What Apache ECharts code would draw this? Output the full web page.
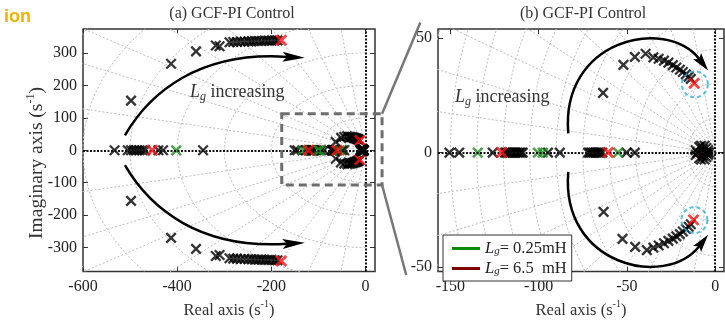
<!DOCTYPE html>
<html><head><meta charset="utf-8">
<script src="https://cdn.jsdelivr.net/npm/echarts@6/dist/echarts.min.js"></script>
<style>html,body{margin:0;padding:0;background:#fff}#c{width:725px;height:324px}</style>
</head><body><div id="c"></div>
<script>
const FONT = '"Liberation Serif","DejaVu Serif",serif';

// ---- data: poles (real part, imaginary part) in s^-1 ----
const realBlack = [-533,-505,-498,-492,-486,-480,-474,-468,-440,-430,-345,-150.5,-145,-126,-119,-118,-117,-116,-115,-114,-113,-112,-111,-110,-109,-94.7,-88,-72,-71,-70,-69,-68,-67,-66,-65,-64,-50.2,-45.5];
const realGreen = [-402,-134.5,-100.4,-97.6,-55];
const realRed = [-453,-121,-60.6];
const upperBlack = [[-498,153],[-413,267],[-360,305],[-318,323],[-310,321],[-289,333],[-281,334],[-273,334],[-265,335],[-257,335],[-249,336],[-242,336],[-235,337],[-228,337],[-221,337],[-214,338],[-207,338],[-200,338],[-193,339],[-187,339],
  [-63.5,26.1],[-52,38.3],[-45.5,41.8],[-39.4,43.2],[-35,41.6],[-32,41],[-29,40.2],[-26.5,39.3],[-24,38.2],[-22,37.2],[-20,36.2],[-18.3,35.2],[-16.6,34.2],[-15,33.2],[-13.8,32.2]];
const lowerBlack = [[-498,-156],[-413,-270],[-360,-304],[-318,-326],[-310,-323],[-289,-333],[-281,-334],[-273,-334],[-265,-335],[-257,-335],[-249,-336],[-242,-336],[-235,-337],[-228,-337],[-221,-337],[-214,-338],[-207,-338],[-200,-338],[-193,-339],[-187,-339],
  [-63.2,-25.9],[-52.5,-37.7],[-45.3,-41.2],[-38.7,-42.6],[-35,-41.5],[-32,-40.6],[-29,-39.6],[-26.5,-38.6],[-24,-37.6],[-22,-36.6],[-20,-35.6],[-18.3,-34.5],[-16.6,-33.4],[-15,-32.4],[-13.8,-31.3]];
const complexRed = [[-179,339],[-11.9,30.3],[-179,-341],[-12.3,-29.4]];
const originBlack = [[-11,1],[-11,-1],[-10,0],[-9,2.5],[-9,-2.5],[-8,3],[-8,-3],[-7,1.5],[-7,-1.5],[-6,3],[-6,-3],[-5,0],[-5,2],[-5,-2],[-4,1],[-4,-1],[-3.5,0]];
const originRed = [[-7.5,0]];
const highlight = [[-11.5,29.8],[-11.8,-29.5]];

// ---- axes / grid lines ----
const xTicksA = [-600,-400,-200,0];
const yTicksA = [-300,-200,-100,0,100,200,300];
const xTicksB = [-150,-100,-50,0];
const yTicksB = [-50,0,50];
const dampAnglesA = [12,24,32,42,52,62,72,82];
const dampAnglesB = [6.5,13,20,27,35,44,54,65,77];
const wnA = [100,200,300,400,500,600,700,800];
const wnB = [15,30,45,60,75,90,105,120,135,150,165];

const XS = 'path://M0,0L10,10M10,0L0,10';
const real = xs => xs.map(x => [x, 0]);
const blackAll = real(realBlack).concat(upperBlack, lowerBlack);
const greenAll = real(realGreen);
const redAll = real(realRed).concat(complexRed, originRed);

function scat(data, gi, color, size, bw, z) {
  return {type:'scatter', xAxisIndex:gi, yAxisIndex:gi, data, symbol:XS, symbolSize:size,
    itemStyle:{color:'rgba(0,0,0,0)', borderColor:color, borderWidth:bw}, z, silent:true, clip:true};
}
function gridLine(data, gi) {
  return {type:'line', xAxisIndex:gi, yAxisIndex:gi, data, symbol:'none', showSymbol:false, clip:true, silent:true, z:1,
    lineStyle:{color:'#bdbdbd', width:1, type:[2,2]}};
}
function sgrid(gi, angles, radii, R) {
  const out = [];
  angles.forEach(a => {
    const t = a*Math.PI/180;
    out.push(gridLine([[0,0],[-R*Math.cos(t), R*Math.sin(t)]], gi));
    out.push(gridLine([[0,0],[-R*Math.cos(t), -R*Math.sin(t)]], gi));
  });
  radii.forEach(r => {
    const d = [];
    for (let a=90; a<=270; a+=2) { const t=a*Math.PI/180; d.push([r*Math.cos(t), r*Math.sin(t)]); }
    out.push(gridLine(d, gi));
  });
  return out;
}
const tickStyle = {inside:true, length:5, lineStyle:{color:'#333', width:1}};
const labStyle = {fontFamily:FONT, fontSize:16, color:'#222'};
const nameRich = {n:{fontFamily:FONT, fontSize:16.5, color:'#333'}, s:{fontFamily:FONT, fontSize:10, color:'#333', verticalAlign:'top', lineHeight:22}};

function xAx(gi, min, max, ticks, top) {
  return {type:'value', gridIndex:gi, min, max, position: top?'top':'bottom',
    axisLine:{show:false, onZero:false}, splitLine:{show:false},
    axisTick:Object.assign({customValues:ticks}, tickStyle),
    axisLabel:top?{show:false}:Object.assign({customValues:ticks, margin:7, formatter:v=>String(v)}, labStyle),
    name: top?'':'{n|Real axis (s}{s|-1}{n|)}', nameLocation:'middle', nameGap:27, nameTextStyle:{rich:nameRich}};
}
function yAx(gi, min, max, ticks, right) {
  return {type:'value', gridIndex:gi, min, max, position: right?'right':'left',
    axisLine:{show:false, onZero:false}, splitLine:{show:false},
    axisTick:Object.assign({customValues:ticks}, tickStyle),
    axisLabel:right?{show:false}:Object.assign({customValues:ticks, margin:6, formatter:v=>String(v)}, labStyle)};
}

const series = [];
[0,1].forEach(gi => {
  if (gi===0) series.push(...sgrid(0, dampAnglesA, wnA, 2000));
  else series.push(...sgrid(1, dampAnglesB, wnB, 500));
  series.push({type:'line', xAxisIndex:gi, yAxisIndex:gi, data:[], silent:true, z:2,
    markLine:{silent:true, symbol:'none', label:{show:false}, animation:false,
      lineStyle:{color:'#111', width:2, type:[2,1.5]}, data:[{xAxis:0},{yAxis:0}]}});
  series.push(scat(blackAll, gi, '#000', 9.5, 2.3, 3));
  series.push(scat(greenAll, gi, '#1a8a1a', 9.5, 2.4, 4));
  series.push(scat(redAll, gi, '#ff1010', 10, 2.8, 5));
  series.push(scat(originBlack, gi, '#000', 9.5, 2.3, 6));
});
series.push({type:'scatter', xAxisIndex:1, yAxisIndex:1, data:highlight, symbol:'circle', symbolSize:26, silent:true, z:7,
  itemStyle:{color:'rgba(0,0,0,0)', borderColor:'#2aaee0', borderWidth:2, borderType:[4,3]}});
series.push({name:'g1', type:'line', xAxisIndex:1, yAxisIndex:1, data:[], color:'#0a8a0a'});
series.push({name:'g2', type:'line', xAxisIndex:1, yAxisIndex:1, data:[], color:'#800000'});

const legRich = {L:{fontFamily:FONT, fontSize:16.5, fontStyle:'italic', color:'#222', lineHeight:17},
  s:{fontFamily:FONT, fontSize:11, fontStyle:'italic', color:'#222', verticalAlign:'bottom', lineHeight:13},
  t:{fontFamily:FONT, fontSize:16.5, color:'#222', lineHeight:17}};

const chart = echarts.init(document.getElementById('c'));
chart.setOption({
  animation:false,
  backgroundColor:'#fff',
  grid:[
    {left:83, top:29, width:292, height:253, show:true, borderColor:'#333', borderWidth:1.5, backgroundColor:'transparent'},
    {left:438, top:29, width:286, height:253, show:true, borderColor:'#333', borderWidth:1.5, backgroundColor:'transparent'}
  ],
  xAxis:[xAx(0,-600,20,xTicksA,false), xAx(1,-157,5,xTicksB,false), xAx(0,-600,20,xTicksA,true), xAx(1,-157,5,xTicksB,true)],
  yAxis:[yAx(0,-374,374,yTicksA,false), yAx(1,-52,54,yTicksB,false), yAx(0,-374,374,yTicksA,true), yAx(1,-52,54,yTicksB,true)],
  legend:{data:['g1','g2'], orient:'vertical', left:443, top:235, padding:[5,5,4,9], itemGap:3, itemWidth:28, itemHeight:3,
    icon:'rect', backgroundColor:'#fff', borderColor:'#333', borderWidth:1, borderRadius:0, z:20,
    formatter: n => n==='g1' ? '{L|L}{s|g}{t|= 0.25mH}' : '{L|L}{s|g}{t|= 6.5  mH}',
    textStyle:{rich:legRich}},
  series
});

// ---- annotations (placed through the axes' scales) ----
function px(gi, p){ return chart.convertToPixel({gridIndex:gi}, p); }
function arrow(gi, P){
  const [a,b,c,d,tip] = P.map(p => px(gi,p));
  const dx = tip[0]-d[0], dy = tip[1]-d[1], L = Math.hypot(dx,dy);
  const nx = -dy/L*5, ny = dx/L*5;
  return [
    {type:'bezierCurve', shape:{x1:a[0],y1:a[1],cpx1:b[0],cpy1:b[1],cpx2:c[0],cpy2:c[1],x2:d[0],y2:d[1]},
      style:{stroke:'#000', lineWidth:2.5, fill:null}, z:30},
    {type:'polygon', shape:{points:[tip,[d[0]-dx*0.25+nx,d[1]-dy*0.25+ny],[d[0],d[1]],[d[0]-dx*0.25-nx,d[1]-dy*0.25-ny]]},
      style:{fill:'#000'}, z:31}
  ];
}
const arrowAup = [[-511,46],[-458,179],[-352,306],[-167,288],[-129,285]];
const arrowAdn = arrowAup.map(p => [p[0], -p[1]]);
const arrowBup = [[-83.2,8.4],[-87.7,49.3],[-28.3,59.7],[-9,40.9],[-4,35.9]];
const arrowBdn = arrowBup.map(p => [p[0], -p[1]]);
const zoomBox = [[-178,113],[35,-107]];
const linkA = [[35,113],[35,-107]];
const linkB = [[-167,56.8],[-175,-53.5]];

const r0 = px(0, zoomBox[0]), r1 = px(0, zoomBox[1]);
const la = px(0, linkA[0]), lb = px(0, linkA[1]);
const ta = px(1, linkB[0]), tb = px(1, linkB[1]);
const incText = '{L|L}{s|g}{t| increasing}';
const incRich = {L:{fontFamily:FONT, fontSize:18, fontStyle:'italic', fill:'#333', lineHeight:21},
  s:{fontFamily:FONT, fontSize:12, fontStyle:'italic', fill:'#333', verticalAlign:'bottom', lineHeight:15},
  t:{fontFamily:FONT, fontSize:18, fill:'#333', lineHeight:21}};
const ylabRich = {n:{fontFamily:FONT, fontSize:19.5, fill:'#333', lineHeight:24},
  s:{fontFamily:FONT, fontSize:12, fill:'#333', verticalAlign:'top', lineHeight:24}};
chart.setOption({graphic:[
  {type:'text', x:31, y:17, style:{text:'ion', font:'bold 18px "Liberation Sans", sans-serif', fill:'#f2b200', textAlign:'right', textVerticalAlign:'middle'}},
  {type:'text', x:232, y:14, style:{text:'(a) GCF-PI Control', font:'16px '+FONT, fill:'#333', textAlign:'center', textVerticalAlign:'middle'}},
  {type:'text', x:583, y:14, style:{text:'(b) GCF-PI Control', font:'16px '+FONT, fill:'#333', textAlign:'center', textVerticalAlign:'middle'}},
  {type:'text', x:37, y:163, rotation:Math.PI/2, style:{text:'{n|Imaginary axis (s}{s|-1}{n|)}', rich:ylabRich, textAlign:'center', textVerticalAlign:'middle'}},
  {type:'text', x:190, y:92, style:{text:incText, rich:incRich, textVerticalAlign:'middle'}, z:30},
  {type:'text', x:455, y:97, style:{text:incText, rich:incRich, textVerticalAlign:'middle'}, z:30},
  {type:'rect', shape:{x:r0[0], y:r0[1], width:r1[0]-r0[0], height:r1[1]-r0[1]},
    style:{fill:null, stroke:'#6e6e6e', lineWidth:3, lineDash:[8,5]}, z:25},
  {type:'line', shape:{x1:la[0],y1:la[1],x2:ta[0],y2:ta[1]}, style:{stroke:'#777', lineWidth:2.5}, z:25},
  {type:'line', shape:{x1:lb[0],y1:lb[1],x2:tb[0],y2:tb[1]}, style:{stroke:'#777', lineWidth:2.5}, z:25},
  ...arrow(0, arrowAup), ...arrow(0, arrowAdn), ...arrow(1, arrowBup), ...arrow(1, arrowBdn)
]});
</script></body></html>
